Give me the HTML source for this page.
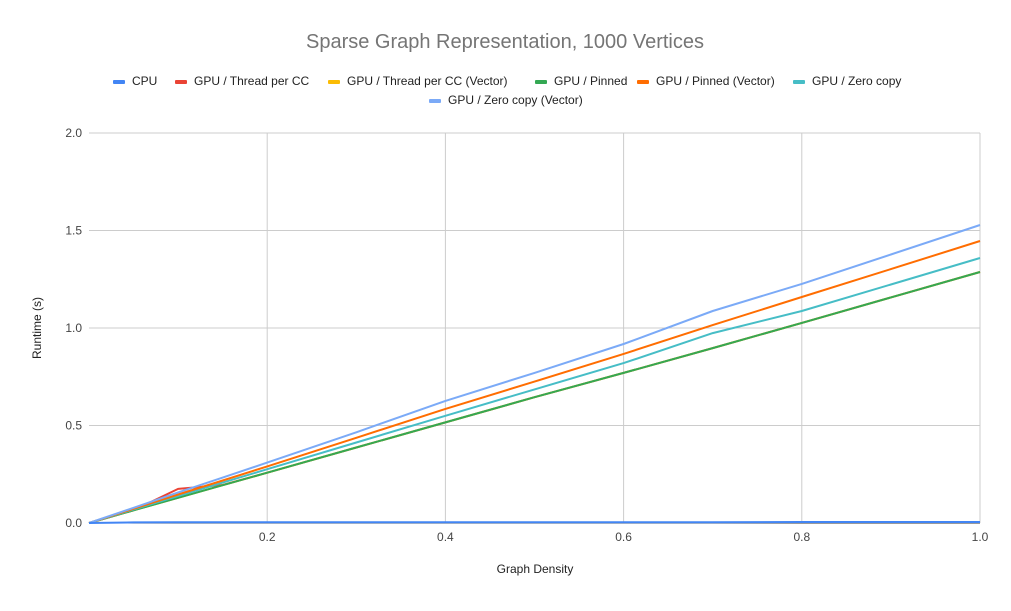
<!DOCTYPE html>
<html><head><meta charset="utf-8"><style>
body{margin:0;background:#fff;font-family:"Liberation Sans",Arial,sans-serif;}
svg text{font-family:"Liberation Sans",Arial,sans-serif;}
</style></head><body>
<svg id="chart" width="1011" height="606" xmlns="http://www.w3.org/2000/svg">
<rect width="1011" height="606" fill="#fff"/>
<text x="505" y="48" text-anchor="middle" font-size="20" fill="#757575">Sparse Graph Representation, 1000 Vertices</text>
<g id="grid"></g><g id="series"></g><g id="legend"></g>
<text x="535" y="573" text-anchor="middle" font-size="12" fill="#222">Graph Density</text>
<text transform="translate(41,328) rotate(-90)" text-anchor="middle" font-size="12" fill="#222">Runtime (s)</text>
</svg>
<script>
const xs = [0, 0.05, 0.1, 0.15, 0.2, 0.3, 0.4, 0.5, 0.6, 0.7, 0.8, 0.9, 1.0];
const cpu = [0, 0.003, 0.004, 0.004, 0.004, 0.004, 0.004, 0.004, 0.004, 0.004, 0.005, 0.005, 0.005];
const threadCC = [0, 0.065, 0.175, 0.195, 0.258, 0.387, 0.516, 0.645, 0.77, 0.897, 1.026, 1.157, 1.287];
const threadCCVec = [0, 0.065, 0.129, 0.194, 0.258, 0.387, 0.516, 0.645, 0.77, 0.897, 1.026, 1.157, 1.287];
const pinned = [0, 0.065, 0.129, 0.194, 0.258, 0.387, 0.516, 0.645, 0.77, 0.897, 1.026, 1.157, 1.287];
const pinnedVec = [0, 0.073, 0.146, 0.218, 0.29, 0.437, 0.585, 0.725, 0.867, 1.015, 1.159, 1.302, 1.446];
const zeroCopy = [0, 0.069, 0.138, 0.207, 0.276, 0.413, 0.55, 0.685, 0.82, 0.974, 1.087, 1.223, 1.359];
const zeroCopyVec = [0, 0.078, 0.157, 0.233, 0.31, 0.465, 0.626, 0.77, 0.918, 1.087, 1.226, 1.377, 1.528];
const xTicks = [0.2, 0.4, 0.6, 0.8, 1.0];
const yTicks = [0, 0.5, 1.0, 1.5, 2.0];
const names = ["CPU","GPU / Thread per CC","GPU / Thread per CC (Vector)","GPU / Pinned","GPU / Pinned (Vector)","GPU / Zero copy","GPU / Zero copy (Vector)"];
const colors = ["#4285f4","#ea4335","#fbbc04","#34a853","#ff6d01","#46bdc6","#7baaf7"];
const X = v => 89 + v * 891;
const Y = v => 523 - v * 195;
const NS = "http://www.w3.org/2000/svg";
function mk(tag, attrs, parent){const e=document.createElementNS(NS,tag);for(const k in attrs)e.setAttribute(k,attrs[k]);parent.appendChild(e);return e;}
const grid=document.getElementById('grid');
yTicks.forEach(t=>{
  const l=mk('line',{x1:89,x2:980,y1:Y(t),y2:Y(t),stroke:t===0?'#333':'#ccc','stroke-width':1},grid);
  
  
  const tx=mk('text',{x:82,y:Y(t)+4,'text-anchor':'end','font-size':12,fill:'#444'},grid);
  tx.textContent=t.toFixed(1);
  
  
});
xTicks.forEach(t=>{
  const l=mk('line',{x1:X(t),x2:X(t),y1:133,y2:523,stroke:'#ccc','stroke-width':1},grid);
  
  
  const tx=mk('text',{x:X(t),y:541,'text-anchor':'middle','font-size':12,fill:'#444'},grid);
  tx.textContent=t.toFixed(1);
  
  
});
const series=[cpu,threadCC,threadCCVec,pinned,pinnedVec,zeroCopy,zeroCopyVec];
const sg=document.getElementById('series');
const order=[1,2,3,5,4,6,0];
order.forEach(i=>{
  const d=series[i].map((v,j)=>(j?'L':'M')+X(xs[j]).toFixed(1)+' '+Y(v).toFixed(1)).join(' ');
  const p=mk('path',{d:d,fill:'none',stroke:colors[i],'stroke-width':2,'stroke-linejoin':'round'},sg);
  
  
});
const lg=document.getElementById('legend');
const pos=[[113,85],[175,85],[328,85],[535,85],[637,85],[793,85],[429,104]];
names.forEach((n,i)=>{
  const [x,y]=pos[i];
  const g=mk('g',{},lg);
  
  
  mk('rect',{x:x,y:y-5,width:12,height:4,rx:1,fill:colors[i]},g);
  const t=mk('text',{x:x+19,y:y,'font-size':12,fill:'#222'},g);
  t.textContent=n;
});
</script>
</body></html>
